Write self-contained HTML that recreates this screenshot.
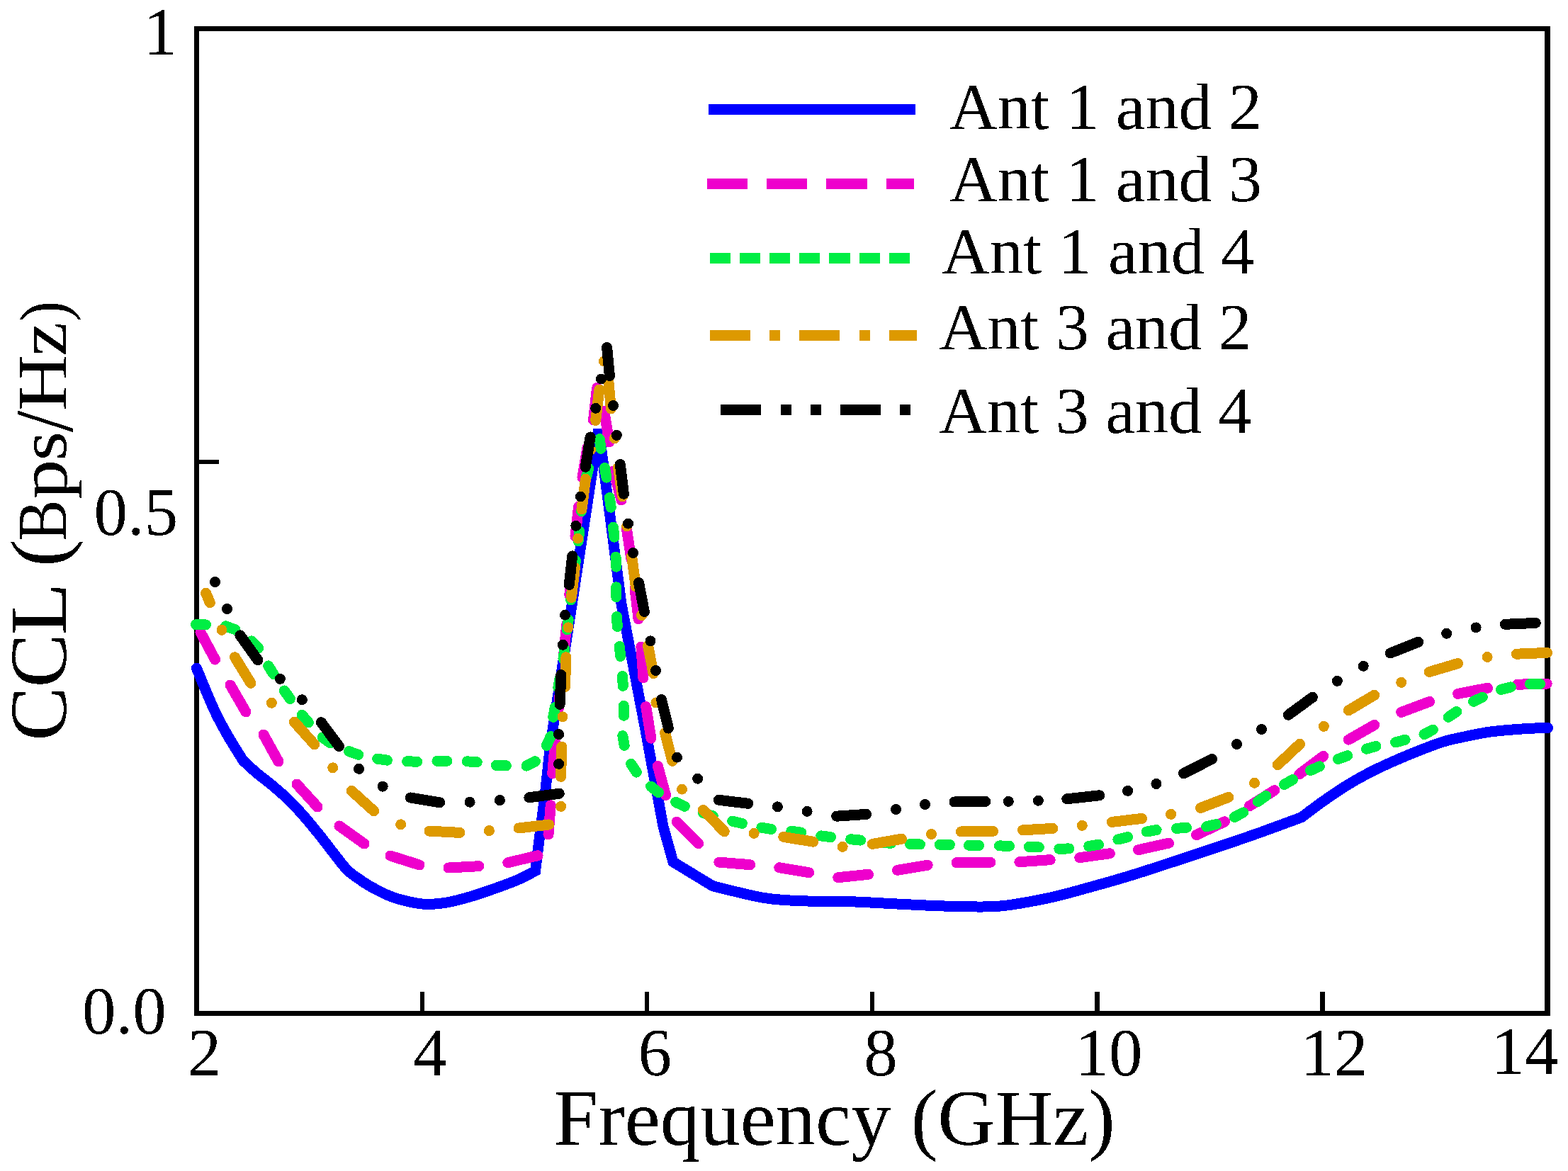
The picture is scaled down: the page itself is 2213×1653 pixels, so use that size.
<!DOCTYPE html>
<html lang="en">
<head>
<meta charset="utf-8">
<title>CCL vs Frequency</title>
<style>
html,body{margin:0;padding:0;background:#fff;}
body{width:2213px;height:1653px;overflow:hidden;}
svg{display:block;}
</style>
</head>
<body>
<svg xmlns="http://www.w3.org/2000/svg" width="2213" height="1653" viewBox="0 0 2213 1653">
<rect width="2213" height="1653" fill="#fff"/>
<g fill="#000" shape-rendering="crispEdges">
<rect x="274" y="37" width="1914" height="7"/>
<rect x="274" y="1427" width="1914" height="7"/>
<rect x="274" y="37" width="7" height="1397"/>
<rect x="2180" y="37" width="8" height="1397"/>
<rect x="593" y="1400" width="6" height="28"/><rect x="910" y="1400" width="6" height="28"/><rect x="1228" y="1400" width="6" height="28"/><rect x="1545" y="1400" width="7" height="28"/><rect x="1863" y="1400" width="7" height="28"/><rect x="280" y="649" width="29" height="6"/>
</g>
<g fill="none" stroke-width="15" stroke-linecap="round" stroke-linejoin="round" shape-rendering="crispEdges">
<path stroke="#0000ff" stroke-linejoin="miter" d="M277.4 943.2C279.5 948.3 285.6 963.3 290 973.7C294.4 984.1 298.8 994.9 304 1005.7C309.2 1016.5 315 1027.2 321.5 1038.5C328 1049.8 339.4 1067.7 343 1073.5C344.5 1074.9 348 1078.5 351.8 1081.9C355.6 1085.3 360.4 1089.6 365.9 1094.1C371.3 1098.6 377.8 1103.1 384.5 1108.8C391.2 1114.5 399.1 1121.2 406.3 1128.2C413.6 1135.2 420.8 1142.9 428 1151.1C435.2 1159.3 442.5 1168.3 449.8 1177.3C457.1 1186.3 464.9 1196.8 471.6 1205.3C478.3 1213.8 484.2 1222.1 490 1228C495.8 1233.9 500.9 1236.7 506.3 1240.6C511.8 1244.5 516.3 1247.6 522.7 1251.2C529.1 1254.8 537.2 1259.2 544.5 1262.4C551.8 1265.6 557.2 1267.9 566.3 1270.2C575.4 1272.5 588 1275.7 598.9 1276.3C609.8 1276.9 620.7 1275.6 631.6 1273.8C642.5 1272 653.4 1268.8 664.3 1265.6C675.2 1262.4 686.1 1258.6 697 1254.7C707.9 1250.8 720 1246.6 729.7 1242.4C739.5 1238.2 751.2 1231.7 755.5 1229.5L769.8 1116.3L776.6 1052.7L845 606L856.1 690.8L875.8 843.4L877 852.7L911 1030.6L915 1052.7L936.1 1167.1L950 1216.7L1005.9 1250.7C1018.2 1253.5 1057.5 1264.2 1079.8 1267.7C1102.1 1271.2 1119.7 1271.2 1139.7 1272C1159.7 1272.8 1176.3 1271.9 1199.6 1272.7C1222.9 1273.5 1256.1 1275.6 1279.5 1276.7C1302.9 1277.8 1318.3 1278.8 1340 1279.2C1361.7 1279.6 1386.6 1281.1 1409.9 1279.2C1433.2 1277.3 1458.2 1272.1 1479.8 1267.6C1501.4 1263.1 1519.7 1257.5 1539.7 1252C1559.7 1246.5 1576.3 1241.9 1599.6 1234.7C1622.9 1227.5 1656.2 1216.4 1679.5 1208.7C1702.8 1201 1722.8 1194.4 1739.4 1188.7C1756.1 1183 1763.2 1180.6 1779.4 1174.8C1795.6 1169 1827.2 1157.3 1836.7 1153.8C1841.5 1150.2 1855.2 1139.7 1865.4 1132.5C1875.6 1125.3 1887.1 1117.2 1898 1110.4C1908.9 1103.6 1919.8 1097.4 1930.7 1091.7C1941.6 1086 1952.5 1081 1963.4 1076.1C1974.3 1071.2 1984.1 1067.1 1996.1 1062.3C2008.1 1057.5 2023.4 1051.3 2035.4 1047.5C2047.4 1043.7 2057.1 1042 2068 1039.7C2078.9 1037.4 2089.8 1035 2100.7 1033.4C2111.6 1031.8 2122.5 1031 2133.4 1030.1C2144.3 1029.2 2157.6 1028.4 2166.1 1028C2174.6 1027.6 2181.4 1027.7 2184.5 1027.6"/>
<path stroke="#ee00cc" d="M283 892.5L303.5 931M325 967L347 1005M372 1037L393 1075M419 1107L448 1139M479 1166L514 1191M551 1208L592 1221M633 1225L675.8 1222.7M716.8 1217.7L759.1 1207.7M774 1177.9L777.2 1136.6M779.7 1092.1L783.5 1047.6M787.6 1006L791.7 964M795.8 922.5L799.8 881M803.8 840L808 798M812 757L816.6 715M822 674L829 632M837.5 593L842.6 547.6M852.8 580.7L859.8 624M866 665L877 706M884.6 748L891 789.5M896 831L901.1 873.7M904.9 913.1L907.9 956.9M911.7 997.6L918.9 1042.1M928.4 1081.3L939.6 1122.6M955.1 1160.1L985.6 1190.6M1014.9 1217.1L1058.8 1220.7M1099.8 1224.7L1141.7 1231.7M1182.7 1238.7L1225.6 1234.3M1266.5 1228.3L1309.1 1221.3M1350 1217.7L1397.9 1217.3M1438.9 1216.7L1482.2 1213.7M1523.7 1210.7L1566.3 1204.7M1606.6 1199.7L1649.6 1190.1M1688.5 1178.7L1728.5 1159.8M1763.4 1137.8L1798.9 1115.6M1833.9 1092.7L1867.8 1067.3M1903.4 1044.1L1939.7 1023.4M1977.7 1005.4L2017.6 990.4M2057.6 979.4L2099.5 971.2M2141.6 966.2L2183.2 965.2"/>
<path stroke="#00ee44" d="M276.5 881.7L290.5 881.9M318.6 883.9L331.8 888.7M355 904.8L364.8 914.8M378.6 939.9L386.2 951.7M401.4 975L409.4 986.4M426.2 1009.3L435.4 1019.9M455.1 1041L466.5 1049M492.5 1060.7L505.7 1065.3M532.7 1071.2L546.5 1073.2M574.6 1074.8L588.6 1075.2M616.9 1074.3L630.9 1074.3M659.3 1074.8L673.3 1075.8M700.4 1080.4L714.4 1080.8M743 1081.1L755.4 1074.7M771.4 1052.4L777.2 1039.6M780.8 1012.4L783.2 998.6M787.8 970.9L790.2 957.1M795 929.9L797 916.1M800.4 888.9L802.2 875.1M805.7 846.9L807.3 833.1M810.6 804.9L812.4 791.1M816.2 763.9L817.8 750.1M820.6 721.9L822.4 708.1M827.1 674.7L830.9 661.3M846.1 619.6L848.1 633.4M853.5 660.4L855.9 674.2M860.3 702.4L862.3 716.2M865.5 744.2L866.9 758.2M869 786.2L869.6 800.2M869.6 828.7L869.8 842.7M870.5 870.5L871.3 884.5M874.3 912.4L875.7 926.4M878.5 954.4L879.3 968.4M880.3 996.3L880.5 1010.3M878.8 1038.6L881.2 1052.4M890.7 1078.3L898.3 1090.1M918.5 1110.1L929.5 1118.7M953.7 1132.3L966.3 1138.3M992.8 1147.7L1006.2 1151.9M1033.7 1159.2L1047.3 1162.4M1074.9 1168.3L1088.7 1170.5M1116.8 1173.3L1130.6 1175.1M1158.8 1179.9L1172.6 1181.7M1200.6 1184.7L1214.6 1186.1M1243.6 1189.3L1257.6 1190.3M1284.5 1191.6L1298.5 1192M1326.4 1192.3L1340.4 1192.5M1367.5 1193.2L1381.5 1193.4M1410.5 1193.9L1424.5 1194.3M1452.4 1195.4L1466.4 1196M1494.8 1198.3L1508.8 1197.9M1536.8 1194.5L1550.6 1192.1M1577.9 1185L1591.5 1181.6M1618.3 1174L1632.1 1171.6M1660.5 1169.4L1674.5 1168.2M1702.7 1166.8L1716.3 1163.6M1742.2 1153.5L1754.6 1146.9M1775.2 1131.4L1786.8 1123.6M1812.4 1107.5L1824.6 1100.5M1849.5 1087.6L1862.3 1081.8M1888.6 1071.5L1901.8 1066.7M1928.5 1057.2L1941.9 1053.4M1969.5 1047.9L1983.1 1044.3M2010 1036.5L2022.4 1030.1M2044.2 1012.3L2055.8 1004.5M2079.6 990.3L2092.2 984.1M2118.6 973.5L2132.2 969.9M2159.5 965.5L2173.5 965.5"/>
<path stroke="#dd9900" d="M290.6 837.3L296.3 850.7M313 889.3h0.01M331.5 927.8L353.9 964.3M383.4 992.3h0.01M415.4 1019.2L443.8 1050.8M469.7 1083.8h0.01M496.3 1116.4L527.6 1144.8M565.6 1163.8h0.01M606 1173.1L648.9 1175.4M690.4 1172.6h0.01M732.1 1169L774.7 1164M791.6 1138.4h0.01M791.6 1096.4L792.7 1054M794 1011.8h0.01M797.5 969.6L798.8 927.7M802 885.8h0.01M806.4 843.4L811.4 801.7M815.6 760.1h0.01M821 718.8L826.5 676.2M833.6 635h0.01M840.7 593.5L845.8 550M852.5 510h0.01M858.6 536.3L862.4 577M867.4 618.9h0.01M872.5 660L878.5 701M884.6 743h0.01M891.6 785L897.3 828M905.6 868.6h0.01M914.5 911.2L922.1 950.6M925.9 991.9h0.01M938.6 1034.5L948.8 1074.3M962.5 1114.2h0.01M992.4 1143.5L1022.3 1173.8M1064.2 1176.4h0.01M1105.8 1181.4L1147.7 1188.2M1189.2 1195.4h0.01M1231.2 1191.4L1272.5 1184.2M1314.5 1177.4h0.01M1356.4 1174L1401.5 1173.4M1443.5 1171.8L1485.8 1169.4M1527.3 1165.4h0.01M1569.3 1160.4L1611.6 1155.4M1652.6 1149.4h0.01M1694.5 1140.4L1733.8 1125.4M1770.5 1105.3h0.01M1803.3 1079.7L1834.5 1050.3M1868.4 1025.4h0.01M1903.4 1002.8L1939.7 981.2M1977.7 963.4h0.01M2017.2 948.5L2057.6 936.5M2099.1 927.5h0.01M2140.5 923.2L2183.5 921.4"/>
<path stroke="#000000" d="M303.5 821.4h0.01M320.5 859.5h0.01M338.9 896.9L363.9 931.8M395.4 958.4h0.01M426.4 987.7h0.01M453.3 1019.7L478.7 1053.6M506.5 1085.3h0.01M540.2 1110.2h0.01M579.3 1126L620.7 1132.8M663.1 1132.3h0.01M705.4 1129.6h0.01M746.9 1125.8L789.3 1120.2M788.6 1078.4h0.01M788.6 1036.6h0.01M790.2 994.4L791.8 952.5M794.4 910.3h0.01M797.5 868.2h0.01M803.2 825.6L807.7 784.9M812.8 742.3h0.01M819.4 701h0.01M826.3 659.3L833.1 617M840.7 576.3h0.01M848.4 535h0.01M856.6 490.5L860.4 530.5M865.5 572.5h0.01M870.4 614.4h0.01M875.3 655.5L880.4 697.2M886.5 739.1h0.01M893.5 780.4h0.01M901.5 822.4L909.4 863.5M918 904.8h0.01M925.5 946.5h0.01M933.5 987.4L943.4 1028.1M955.5 1069.2h0.01M984.6 1099.2h0.01M1014.3 1129.3L1055.8 1134.3M1097.4 1138.8h0.01M1139.1 1145.4h0.01M1180.7 1152.2L1222.6 1149.4M1264.5 1142.4h0.01M1305.5 1135.5h0.01M1347 1132L1390.9 1131.4M1423.3 1131.4h0.01M1465.4 1130.2h0.01M1505.8 1127.8L1551.7 1122.8M1591.6 1116.4h0.01M1632 1106.5h0.01M1670.5 1091.9L1710.5 1071.5M1745.4 1050.5h0.01M1780.5 1029.6h0.01M1818.3 1009.2L1852.5 984.2M1887.4 961.4h0.01M1924.2 940.3h0.01M1962.3 921.9L2001.7 906.3M2041.6 894.3h0.01M2083.1 885.9h0.01M2124.5 881.3L2167.3 879.4"/>
</g>
<g shape-rendering="crispEdges">
<rect x="1000" y="147" width="292" height="15" fill="#0000ff"/>
<rect x="998" y="252" width="57" height="15" fill="#ee00cc"/><rect x="1082" y="252" width="57" height="15" fill="#ee00cc"/><rect x="1166" y="252" width="58" height="15" fill="#ee00cc"/><rect x="1251" y="252" width="39" height="15" fill="#ee00cc"/>
<rect x="1002" y="357" width="29" height="15" fill="#00ee44"/><rect x="1044" y="357" width="29" height="15" fill="#00ee44"/><rect x="1086" y="357" width="29" height="15" fill="#00ee44"/><rect x="1128" y="357" width="29" height="15" fill="#00ee44"/><rect x="1170" y="357" width="30" height="15" fill="#00ee44"/><rect x="1213" y="357" width="29" height="15" fill="#00ee44"/><rect x="1255" y="357" width="29" height="15" fill="#00ee44"/>
<rect x="1002" y="466" width="57" height="15" fill="#dd9900"/><rect x="1086" y="466" width="15" height="15" fill="#dd9900"/><rect x="1128" y="466" width="57" height="15" fill="#dd9900"/><rect x="1213" y="466" width="15" height="15" fill="#dd9900"/><rect x="1255" y="466" width="39" height="15" fill="#dd9900"/>
<rect x="1017" y="571" width="57" height="15" fill="#000000"/><rect x="1102" y="571" width="15" height="15" fill="#000000"/><rect x="1144" y="571" width="15" height="15" fill="#000000"/><rect x="1186" y="571" width="57" height="15" fill="#000000"/><rect x="1270" y="571" width="15" height="15" fill="#000000"/>
</g>
<defs><filter id="crisp" filterUnits="userSpaceOnUse" x="0" y="0" width="2213" height="1653" color-interpolation-filters="sRGB"><feComponentTransfer><feFuncA type="discrete" tableValues="0 1"/></feComponentTransfer></filter></defs>
<g font-family="'Liberation Serif', 'Times New Roman', serif" fill="#000" filter="url(#crisp)">
<text x="1339.8" y="181.5" font-size="94">Ant 1 and 2</text>
<text x="1339.8" y="284" font-size="94">Ant 1 and 3</text>
<text x="1329" y="386" font-size="94">Ant 1 and 4</text>
<text x="1325.4" y="493.3" font-size="94">Ant 3 and 2</text>
<text x="1325.2" y="610.8" font-size="94">Ant 3 and 4</text>
<text x="264.8" y="1517.5" font-size="95">2</text>
<text x="583.2" y="1517.5" font-size="95">4</text>
<text x="900.6" y="1518" font-size="95">6</text>
<text x="1219.2" y="1518" font-size="95">8</text>
<text x="1517.5" y="1517.5" font-size="95">10</text>
<text x="1835.5" y="1517.5" font-size="95">12</text>
<text x="2104.5" y="1515.5" font-size="95">14</text>
<text x="202.5" y="77" font-size="95">1</text>
<text x="132.6" y="755.2" font-size="95">0.5</text>
<text x="116" y="1459.2" font-size="95">0.0</text>
<text x="781.5" y="1616" font-size="112.8">Frequency (GHz)</text>
<text transform="rotate(-90)" font-size="112"><tspan x="-1045.67" y="93.3" font-size="115" textLength="76.05" lengthAdjust="spacingAndGlyphs">C</tspan><tspan x="-970.47" y="93.3" font-size="115" textLength="75.93" lengthAdjust="spacingAndGlyphs">C</tspan><tspan x="-896.61" y="93.1" font-size="114.7" textLength="73.98" lengthAdjust="spacingAndGlyphs">L</tspan><tspan> </tspan><tspan x="-800.20" y="93.1" font-size="112.7" textLength="39.39" lengthAdjust="spacingAndGlyphs">(</tspan><tspan x="-763.42" y="92.8" font-size="98.9" textLength="57.87" lengthAdjust="spacingAndGlyphs">B</tspan><tspan x="-704.80" y="93.6" font-size="98" textLength="56.18" lengthAdjust="spacingAndGlyphs">p</tspan><tspan x="-650.24" y="93" font-size="95.8" textLength="41.14" lengthAdjust="spacingAndGlyphs">s</tspan><tspan x="-610.10" y="102.2" font-size="116" textLength="30.30" lengthAdjust="spacingAndGlyphs">/</tspan><tspan x="-580.09" y="93.1" font-size="99.4" textLength="79.38" lengthAdjust="spacingAndGlyphs">H</tspan><tspan x="-502.82" y="93.1" font-size="96.5" textLength="48.05" lengthAdjust="spacingAndGlyphs">z</tspan><tspan x="-453.86" y="93.5" font-size="96" textLength="28.76" lengthAdjust="spacingAndGlyphs">)</tspan></text>
</g>
</svg>
</body>
</html>
